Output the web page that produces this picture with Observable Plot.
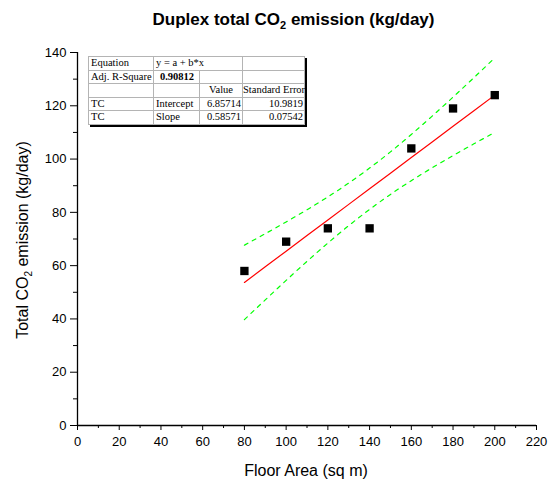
<!DOCTYPE html>
<html>
<head>
<meta charset="utf-8">
<script src="https://cdn.jsdelivr.net/npm/d3@7"></script>
<script src="https://cdn.jsdelivr.net/npm/@observablehq/plot@0.6"></script>
<style>
  body { margin: 0; background: #fff; }
  #wrap { position: relative; width: 557px; height: 482px; font-family: "Liberation Sans", Arial, sans-serif; background: #fff; }
  #title { position: absolute; left: 0; top: 10px; width: 557px; padding-left: 30px; box-sizing: border-box; text-align: center; font-weight: bold; font-size: 17px; line-height: 20px; color: #000; }
  #title sub { font-size: 11px; vertical-align: -4px; line-height: 0; }
  #tbl { position: absolute; left: 88px; top: 56px; border-collapse: collapse; table-layout: fixed; width: 216px;
         font-family: "Liberation Serif", "Times New Roman", serif; font-size: 10.5px; background: #fff;
         border: 1px solid #000; box-shadow: 2px 2px 0 #000; }
  #tbl td { border: 1px solid #b4b4b4; height: 12.5px; padding: 0 1px 0 2px; line-height: 12px; white-space: nowrap; overflow: visible; color: #000; }
  #tbl td.r { text-align: right; padding-right: 1px; }
  #tbl td.c { text-align: center; padding: 0; }
  #tbl td.b { font-weight: bold; text-align: center; }
</style>
</head>
<body>
<div id="wrap"></div>
<script>
// ---- data ----
const floorArea = [80, 100, 120, 140, 160, 180, 200];
const emission  = [58, 69, 74, 74, 104, 119, 124];

const bandX  = [80, 90, 100, 110, 120, 130, 140, 150, 160, 170, 180, 190, 200];
const fitY   = [53.71, 59.57, 65.43, 71.29, 77.14, 83.00, 88.86, 94.71, 100.57, 106.43, 112.29, 118.14, 124.00];
const upperY = [67.69, 71.99, 76.40, 80.98, 85.81, 90.99, 96.62, 102.70, 109.24, 116.12, 123.26, 130.56, 137.98];
const lowerY = [39.73, 47.15, 54.46, 61.60, 68.47, 75.01, 81.10, 86.72, 91.90, 96.74, 101.32, 105.72, 110.02];

const xMajor = [0, 20, 40, 60, 80, 100, 120, 140, 160, 180, 200, 220];
const xMinor = [10, 30, 50, 70, 90, 110, 130, 150, 170, 190, 210];
const yMajor = [0, 20, 40, 60, 80, 100, 120, 140];
const yMinor = [10, 30, 50, 70, 90, 110, 130];

const tableRows = [
  [["Equation", ""], ["y = a + b*x", "", 2], ["", ""]],
  [["Adj. R-Square", ""], ["0.90812", "b"], ["", ""], ["", ""]],
  [["", ""], ["", ""], ["Value", "c"], ["Standard Error", "c"]],
  [["TC", ""], ["Intercept", ""], ["6.85714", "r"], ["10.9819", "r"]],
  [["TC", ""], ["Slope", ""], ["0.58571", "r"], ["0.07542", "r"]]
];
const colWidths = [65, 46, 43, 62];

// ---- build ----
const pts = floorArea.map((x, i) => ({x, y: emission[i]}));
const fit = bandX.map((x, i) => ({x, y: fitY[i]}));
const up  = bandX.map((x, i) => ({x, y: upperY[i]}));
const lo  = bandX.map((x, i) => ({x, y: lowerY[i]}));

const chart = Plot.plot({
  width: 557,
  height: 482,
  marginLeft: 77,
  marginRight: 21,
  marginTop: 52,
  marginBottom: 57,
  style: {fontFamily: "'Liberation Sans', Arial, sans-serif", background: "#fff", color: "#000"},
  x: {domain: [0, 220]},
  y: {domain: [0, 140]},
  marks: [
    Plot.axisX(xMajor, {tickSize: 5, tickPadding: 6, fontSize: 13, label: null, stroke: "#000"}),
    Plot.axisX(xMinor, {tickSize: 3, tickFormat: () => "", label: null, stroke: "#000"}),
    Plot.axisY(yMajor, {tickSize: 7, tickPadding: 4, fontSize: 13, label: null, stroke: "#000"}),
    Plot.axisY(yMinor, {tickSize: 4, tickFormat: () => "", label: null, stroke: "#000"}),
    Plot.ruleY([0], {stroke: "#000", strokeWidth: 1.3}),
    Plot.ruleX([0], {stroke: "#000", strokeWidth: 1.3}),
    Plot.line(up, {x: "x", y: "y", stroke: "#00ff00", strokeWidth: 1.2, strokeDasharray: "4,5", curve: "monotone-x"}),
    Plot.line(lo, {x: "x", y: "y", stroke: "#00ff00", strokeWidth: 1.2, strokeDasharray: "4,5", curve: "monotone-x"}),
    Plot.line(fit, {x: "x", y: "y", stroke: "#ff0000", strokeWidth: 1.2}),
    Plot.dot(pts, {x: "x", y: "y", symbol: "square", r: 4.7, fill: "#000", stroke: "none"})
  ]
});

const wrap = document.getElementById("wrap");
wrap.appendChild(chart);
chart.style.position = "absolute";
chart.style.left = "0";
chart.style.top = "0";

const svg = d3.select(chart);
// x axis title
svg.append("text")
  .attr("x", 306).attr("y", 476)
  .attr("text-anchor", "middle")
  .attr("font-size", 16)
  .attr("fill", "#000")
  .text("Floor Area (sq m)");
// y axis title with subscript
const yt = svg.append("text")
  .attr("transform", "translate(28,240) rotate(-90)")
  .attr("text-anchor", "middle")
  .attr("font-size", 16)
  .attr("fill", "#000");
yt.append("tspan").text("Total CO");
yt.append("tspan").attr("font-size", 10).attr("dy", 4).text("2");
yt.append("tspan").attr("dy", -4).text(" emission (kg/day)");

// title
const title = document.createElement("div");
title.id = "title";
title.innerHTML = "Duplex total CO<sub>2</sub> emission (kg/day)";
wrap.appendChild(title);

// table
const tbl = document.createElement("table");
tbl.id = "tbl";
const cg = document.createElement("colgroup");
colWidths.forEach(w => { const c = document.createElement("col"); c.style.width = w + "px"; cg.appendChild(c); });
tbl.appendChild(cg);
tableRows.forEach(row => {
  const tr = document.createElement("tr");
  row.forEach(([txt, cls, span]) => {
    const td = document.createElement("td");
    td.textContent = txt;
    if (cls) td.className = cls;
    if (span) td.colSpan = span;
    tr.appendChild(td);
  });
  tbl.appendChild(tr);
});
wrap.appendChild(tbl);
</script>
</body>
</html>
